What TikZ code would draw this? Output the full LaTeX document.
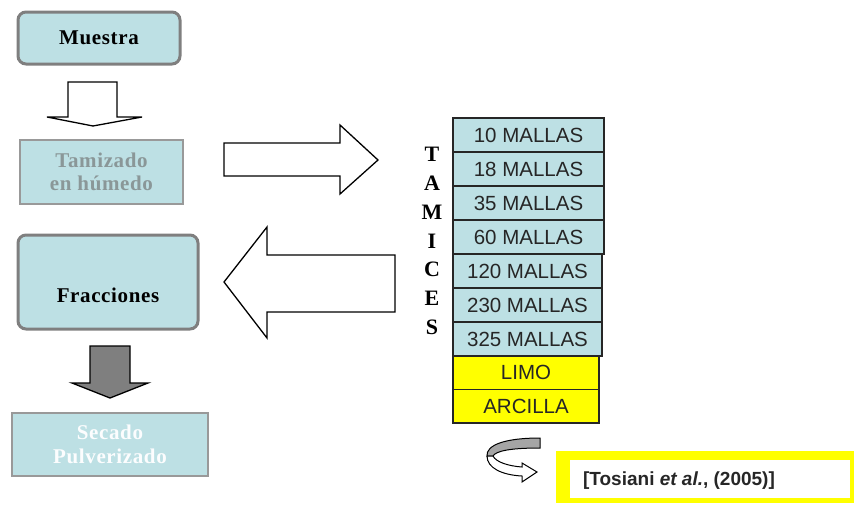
\documentclass[tikz,border=0pt]{standalone}
\usepackage{fontspec}
\setmainfont{Liberation Serif}
\setsansfont{Liberation Sans}
\newfontfamily\pasofont[LetterSpace=3]{Liberation Serif}
\usetikzlibrary{positioning}

\definecolor{celeste}{HTML}{BDE0E4}
\definecolor{amarillo}{HTML}{FFFF00}
\definecolor{grisborde}{HTML}{7F7F7F}
\definecolor{gristexto}{HTML}{8A9798}

\tikzset{
  pasoredondo/.style={draw=grisborde, line width=3pt, rounded corners=8pt, fill=celeste, inner sep=0pt, outer sep=0pt},
  pasorecto/.style={draw=grisborde!80, line width=1.3pt, fill=celeste, inner sep=0pt, outer sep=0pt, align=center},
  pasotexto/.style={font=\pasofont\bfseries\fontsize{21}{23.5}\selectfont},
  tamiz/.style={draw=black!85, line width=1.4pt, fill=celeste, minimum height=34pt, inner sep=0pt, outer sep=0pt, font=\sffamily\fontsize{20.5}{20.5}\selectfont, text=black!85},
  resto/.style={tamiz, fill=amarillo, minimum width=146pt, minimum height=33.5pt},
  flechahueca/.style={draw=black, line width=1.3pt, fill=white, line join=miter}
}

\begin{document}
\begin{tikzpicture}[x=1pt, y=-1pt]
  \useasboundingbox (0,0) rectangle (854,506);

  % columna izquierda
  \node[pasoredondo, pasotexto, minimum width=162pt, minimum height=52pt] (muestra) at (99,38) {Muestra};
  \node[pasorecto, pasotexto, text=gristexto, minimum width=163pt, minimum height=64pt] (tamizado) at (101.5,172) {Tamizado\\en húmedo};
  \node[pasoredondo, minimum width=180pt, minimum height=94pt] (fracciones) at (108,282) {};
  \node[pasotexto] (fraccionestxt) at (108,295) {Fracciones};
  \node[pasorecto, pasotexto, text=white!95!celeste, minimum width=196pt, minimum height=63pt] (secado) at (110,444.5) {Secado\\Pulverizado};

  % flechas de bloque
  \draw[flechahueca] (68,82) -- (117,82) -- (117,117) -- (142,117) -- (93,126) -- (47,117) -- (68,117) -- cycle;
  \draw[flechahueca] (224,143) -- (340,143) -- (340,125) -- (378,160) -- (340,194) -- (340,176) -- (224,176) -- cycle;
  \draw[flechahueca] (395,255) -- (267,255) -- (267,227) -- (224,282) -- (267,338) -- (267,312) -- (395,312) -- cycle;
  \draw[flechahueca, fill=grisborde] (90,346) -- (130,346) -- (130,383) -- (148,383) -- (110,398) -- (72,383) -- (90,383) -- cycle;

  % tamices
  \node[font=\bfseries\fontsize{22}{28.7}\selectfont, align=center, inner sep=0pt] (tamices) at (432,241) {T\\A\\M\\I\\C\\E\\S};

  \node[tamiz, minimum width=151pt, anchor=north west] (m10) at (453,118) {10 MALLAS};
  \node[tamiz, minimum width=151pt, below=0pt of m10.south west, anchor=north west] (m18) {18 MALLAS};
  \node[tamiz, minimum width=151pt, below=0pt of m18.south west, anchor=north west] (m35) {35 MALLAS};
  \node[tamiz, minimum width=151pt, below=0pt of m35.south west, anchor=north west] (m60) {60 MALLAS};
  \node[tamiz, minimum width=149pt, below=0pt of m60.south west, anchor=north west] (m120) {120 MALLAS};
  \node[tamiz, minimum width=149pt, below=0pt of m120.south west, anchor=north west] (m230) {230 MALLAS};
  \node[tamiz, minimum width=149pt, below=0pt of m230.south west, anchor=north west] (m325) {325 MALLAS};
  \node[resto, below=0pt of m325.south west, anchor=north west] (limo) {LIMO};
  \node[resto, below=0pt of limo.south west, anchor=north west] (arcilla) {ARCILLA};

  % flecha curva
  \draw[line width=1pt, fill=grisborde!70] (540,438) .. controls (505,438) and (486,445) .. (487,456) -- (493,456) .. controls (496,451) and (510,448) .. (540,448) -- cycle;
  \draw[line width=1pt, fill=white] (493,456) .. controls (496,462) and (508,466) .. (522,467) -- (522,463) -- (537,472) -- (522,482) -- (522,476) .. controls (502,475) and (487,468) .. (487,456) -- cycle;

  % referencia
  \fill[amarillo] (556,451) rectangle (854,503);
  \fill[white] (570,460) rectangle (850,498);
  \node[font=\sffamily\bfseries\fontsize{19}{19}\selectfont, text=black!85] (cita) at (679,481) {[Tosiani \textit{et al.}, (2005)]};
\end{tikzpicture}
\end{document}
